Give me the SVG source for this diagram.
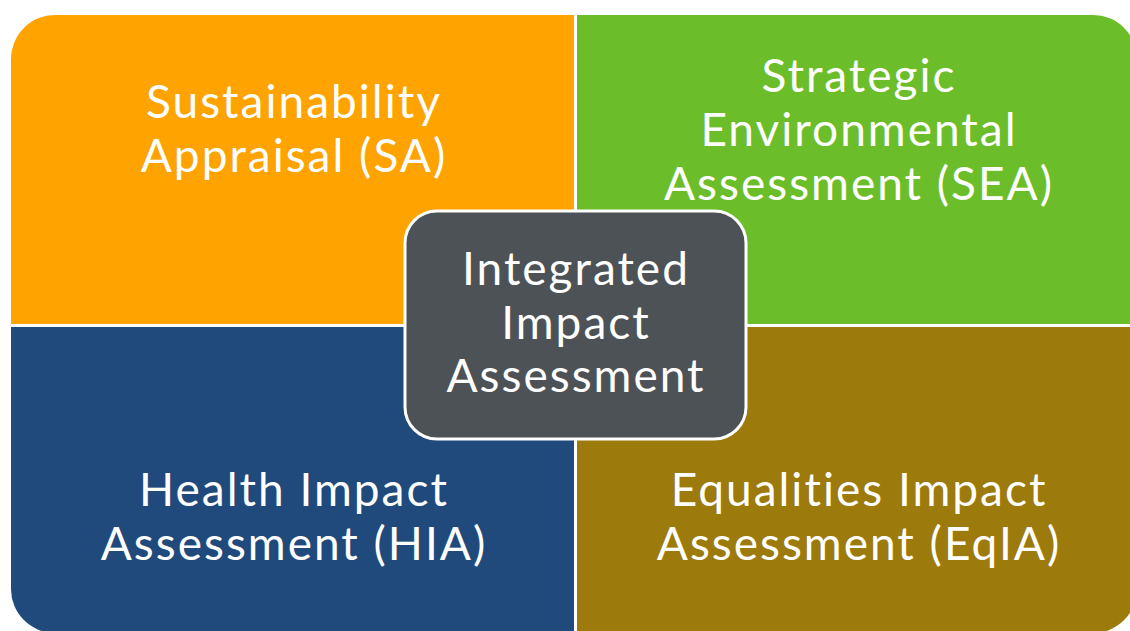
<svg xmlns="http://www.w3.org/2000/svg" width="1130" height="631" viewBox="0 0 1130 631">
<style>
.t{font-family:Lato,"Open Sans","Liberation Sans",sans-serif;font-size:46px;letter-spacing:2px;font-variant-ligatures:none;fill:#fff;text-anchor:middle}
</style>
<rect width="1130" height="631" fill="#fff"/>
<g id="sa">
<path d="M11,59 A44,44 0 0 1 55,15 L574,15 L574,324 L11,324 Z" fill="#FFA300"/>
<text class="t" x="294" y="118">Sustainability</text>
<text class="t" x="294" y="172">Appraisal (SA)</text>
</g>
<g id="sea">
<path d="M577,15 L1093,15 A44,44 0 0 1 1137,59 L1137,324 L577,324 Z" fill="#6BBE2A"/>
<text class="t" x="859" y="92">Strategic</text>
<text class="t" x="859" y="146">Environmental</text>
<text class="t" x="859" y="200">Assessment (SEA)</text>
</g>
<g id="hia">
<path d="M11,327 L574,327 L574,633 L55,633 A44,44 0 0 1 11,589 Z" fill="#214A7C"/>
<text class="t" x="294" y="506">Health Impact</text>
<text class="t" x="294" y="560">Assessment (HIA)</text>
</g>
<g id="eqia">
<path d="M577,327 L1137,327 L1137,589 A44,44 0 0 1 1093,633 L577,633 Z" fill="#9C7A0B"/>
<text class="t" x="859" y="506">Equalities Impact</text>
<text class="t" x="859" y="560">Assessment (EqIA)</text>
</g>
<g id="iia">
<rect x="405" y="211" width="341" height="228" rx="32" fill="#4D5257" stroke="#fff" stroke-width="3"/>
<text class="t" x="576" y="285">Integrated</text>
<text class="t" x="576" y="339">Impact</text>
<text class="t" x="576" y="392">Assessment</text>
</g>
<g id="connectors"/>
</svg>
